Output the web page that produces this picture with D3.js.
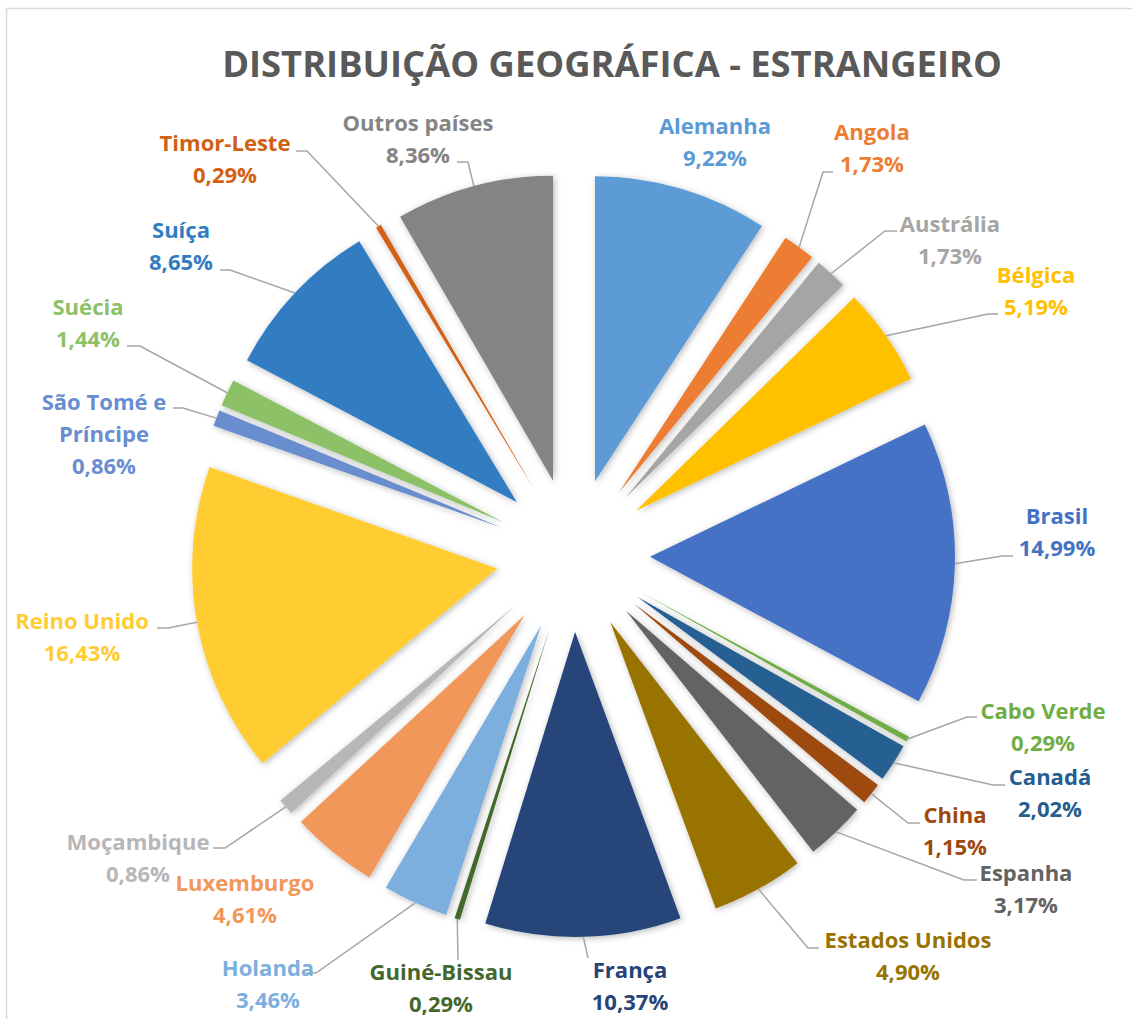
<!DOCTYPE html>
<html>
<head>
<meta charset="utf-8">
<script src="https://cdn.jsdelivr.net/npm/d3@7"></script>
<style>
  html, body { margin: 0; padding: 0; background: #ffffff; }
  svg { display: block; }
</style>
</head>
<body>
<svg id="chart" width="1132" height="1019"></svg>
<script>
// ---- data ----
const categories = ["Alemanha","Angola","Austrália","Bélgica","Brasil","Cabo Verde","Canadá","China","Espanha","Estados Unidos","França","Guiné-Bissau","Holanda","Luxemburgo","Moçambique","Reino Unido","São Tomé e Príncipe","Suécia","Suíça","Timor-Leste","Outros países"];
const values = [9.22,1.73,1.73,5.19,14.99,0.29,2.02,1.15,3.17,4.90,10.37,0.29,3.46,4.61,0.86,16.43,0.86,1.44,8.65,0.29,8.36];
const valueLabels = ["9,22%","1,73%","1,73%","5,19%","14,99%","0,29%","2,02%","1,15%","3,17%","4,90%","10,37%","0,29%","3,46%","4,61%","0,86%","16,43%","0,86%","1,44%","8,65%","0,29%","8,36%"];
const colors = ["#5B9BD5","#ED7D31","#A5A5A5","#FFC000","#4472C4","#70AD47","#255E91","#9E480E","#636363","#997300","#264478","#43682B","#7CAFDD","#F1975A","#B7B7B7","#FFCD33","#698ED0","#8CC168","#327DC2","#D26012","#848484"];
const title = "DISTRIBUIÇÃO GEOGRÁFICA - ESTRANGEIRO";

// ---- label layout (annotation placement) ----
const labelLines = [
  ["Alemanha"],["Angola"],["Austrália"],["Bélgica"],["Brasil"],["Cabo Verde"],["Canadá"],["China"],["Espanha"],["Estados Unidos"],["França"],["Guiné-Bissau"],["Holanda"],["Luxemburgo"],["Moçambique"],["Reino Unido"],["São Tomé e","Príncipe"],["Suécia"],["Suíça"],["Timor-Leste"],["Outros países"]
];
const labelCenters = [
  [715,126],[872,132],[950,224],[1036,275],[1057,516],[1043,711],[1050,777],[955,815],[1026,873],[908,940],[630,970],[441,972],[268,968],[245,883],[138,842],[82,621],[104,402],[88,307],[181,230],[225,143],[418,123]
];
const leaderPts = [
  null,
  [[823,172],[833,172]],
  [[885,231],[897,231]],
  [[988,314],[998,314]],
  [[1002,556],[1013,556]],
  [[967,717],[977,717]],
  [[993,785],[1005,785]],
  [[908,823],[920,823]],
  [[964,880],[977,880]],
  [[808,948],[819,948]],
  [[588,958],[588,958]],
  [[458,960],[458,960]],
  [[316,973],[306,973]],
  null,
  [[225,848],[213,848]],
  [[168,628],[157,628]],
  [[183,408],[173,408]],
  [[140,346],[127,346]],
  [[230,270],[220,270]],
  [[307,151],[296,151]],
  [[468,162],[457,162]]
];

// ---- geometry ----
const W = 1132, H = 1019;
const cx = 573, cy = 555, radius = 305, explode = 77;
const lineGap = 32;
const FONT = "'Open Sans', 'Noto Sans', sans-serif";

const svg = d3.select("#chart");

const defs = svg.append("defs");
const f = defs.append("filter").attr("id","shadow").attr("x","-20%").attr("y","-20%").attr("width","140%").attr("height","140%");
f.append("feDropShadow").attr("dx",1.5).attr("dy",1.5).attr("stdDeviation",3).attr("flood-color","#000").attr("flood-opacity",0.28);

// border
svg.append("rect").attr("x",6.5).attr("y",8.5).attr("width",W+20).attr("height",H+20)
  .attr("fill","none").attr("stroke","#d9d9d9").attr("stroke-width",1.5);

// title, fitted to the reference's title width
const titleEl = svg.append("text").attr("x",612).attr("y",77).attr("text-anchor","middle")
  .attr("font-family",FONT).attr("font-weight","bold")
  .attr("font-size",34).attr("fill","#595959").text(title);
{
  const w = titleEl.node().getComputedTextLength();
  titleEl.attr("font-size", 34*780/w);
}

const pie = d3.pie().sort(null).value(d => d).startAngle(0).endAngle(2*Math.PI);
const arcs = pie(values);
const arc = d3.arc().innerRadius(0).outerRadius(radius);

const g = svg.append("g").attr("transform",`translate(${cx},${cy})`);

function offset(a){
  const m = (a.startAngle + a.endAngle)/2;
  return [explode*Math.sin(m), -explode*Math.cos(m)];
}

// leader lines
const leaders = svg.append("g");
arcs.forEach((a,i) => {
  const lp = leaderPts[i];
  if (!lp) return;
  const m = (a.startAngle + a.endAngle)/2;
  const o = offset(a);
  const sx = cx + o[0] + radius*Math.sin(m);
  const sy = cy + o[1] - radius*Math.cos(m);
  leaders.append("polyline")
    .attr("points", [[sx,sy], lp[0], lp[1]].map(p=>p.join(",")).join(" "))
    .attr("fill","none").attr("stroke","#a6a6a6").attr("stroke-width",1.5);
});

// slices
g.selectAll("path.slice").data(arcs).join("path")
  .attr("class","slice")
  .attr("d", arc)
  .attr("transform", a => `translate(${offset(a)[0]},${offset(a)[1]})`)
  .attr("fill", (a,i) => colors[i])
  .attr("filter","url(#shadow)");

// labels: size fitted so "Estados Unidos" matches reference width (~167px)
const probe = svg.append("text").attr("font-family",FONT).attr("font-weight","bold")
  .attr("font-size",20).text("Estados Unidos");
const labelSize = 20*167/probe.node().getComputedTextLength();
probe.remove();

const lg = svg.append("g").attr("font-family",FONT)
  .attr("font-weight","bold").attr("font-size",labelSize).attr("text-anchor","middle");
categories.forEach((c,i) => {
  const lines = labelLines[i].concat([valueLabels[i]]);
  const [x,y] = labelCenters[i];
  const t = lg.append("text").attr("fill", colors[i]);
  lines.forEach((s,k) => {
    t.append("tspan").attr("x",x).attr("y", y + k*lineGap).attr("dy","0.35em").text(s);
  });
});
</script>
</body>
</html>
